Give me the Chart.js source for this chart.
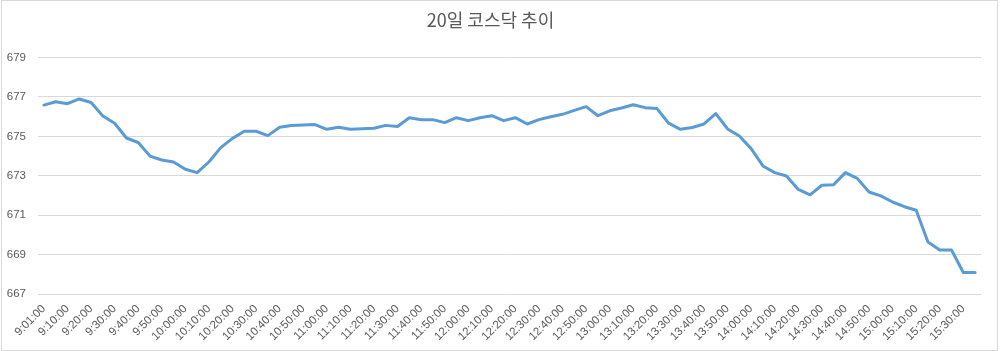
<!DOCTYPE html>
<html>
<head>
<meta charset="utf-8">
<script src="https://cdn.jsdelivr.net/npm/chart.js@4"></script>
<style>
  body { margin: 0; background: #fff; }
  #wrap { position: relative; width: 1000px; height: 351px; }
  #frame { position: absolute; left: 1px; top: 0; width: 997px; height: 351px; border: 1px solid #d9d9d9; box-sizing: border-box; pointer-events: none; }
</style>
</head>
<body>
<div id="wrap">
  <canvas id="chart" width="1000" height="351"></canvas>
  <div id="frame"></div>
</div>
<script>
const times = [
    '9:01:00', '9:05:00', '9:10:00', '9:15:00', '9:20:00', '9:25:00', '9:30:00', '9:35:00',
    '9:40:00', '9:45:00', '9:50:00', '9:55:00', '10:00:00', '10:05:00', '10:10:00', '10:15:00',
    '10:20:00', '10:25:00', '10:30:00', '10:35:00', '10:40:00', '10:45:00', '10:50:00', '10:55:00',
    '11:00:00', '11:05:00', '11:10:00', '11:15:00', '11:20:00', '11:25:00', '11:30:00', '11:35:00',
    '11:40:00', '11:45:00', '11:50:00', '11:55:00', '12:00:00', '12:05:00', '12:10:00', '12:15:00',
    '12:20:00', '12:25:00', '12:30:00', '12:35:00', '12:40:00', '12:45:00', '12:50:00', '12:55:00',
    '13:00:00', '13:05:00', '13:10:00', '13:15:00', '13:20:00', '13:25:00', '13:30:00', '13:35:00',
    '13:40:00', '13:45:00', '13:50:00', '13:55:00', '14:00:00', '14:05:00', '14:10:00', '14:15:00',
    '14:20:00', '14:25:00', '14:30:00', '14:35:00', '14:40:00', '14:45:00', '14:50:00', '14:55:00',
    '15:00:00', '15:05:00', '15:10:00', '15:15:00', '15:20:00', '15:25:00', '15:30:00', '15:35:00'
];

const kosdaq = [
    676.59, 676.76, 676.66, 676.90, 676.72, 676.04, 675.67, 674.92,
    674.69, 674.00, 673.80, 673.70, 673.33, 673.16, 673.70, 674.43,
    674.90, 675.26, 675.26, 675.04, 675.46, 675.55, 675.58, 675.60,
    675.36, 675.46, 675.36, 675.39, 675.41, 675.56, 675.50, 675.95,
    675.85, 675.85, 675.70, 675.95, 675.80, 675.95, 676.05, 675.80,
    675.95, 675.63, 675.85, 676.00, 676.12, 676.32, 676.51, 676.05,
    676.30, 676.44, 676.61, 676.46, 676.42, 675.67, 675.36, 675.45,
    675.63, 676.16, 675.38, 675.02, 674.38, 673.50, 673.16, 672.99,
    672.31, 672.03, 672.52, 672.55, 673.16, 672.87, 672.18, 671.98,
    671.67, 671.43, 671.25, 669.64, 669.23, 669.23, 668.09, 668.09
];

const yTicks = { min: 667, max: 679, step: 2 };
const titleText = '20일 코스닥 추이';

const textColor = '#595959';
const gridColor = '#d9d9d9';

const ctx = document.getElementById('chart').getContext('2d');

const chart = new Chart(ctx, {
    type: 'line',
    data: {
        labels: times,
        datasets: [
            {
                label: '코스닥',
                data: kosdaq,
                borderColor: '#5b9bd5',
                borderWidth: 3,
                pointRadius: 0,
                tension: 0,
                fill: false,
                borderJoinStyle: 'round',
                borderCapStyle: 'round'
            }
        ]
    },
    options: {
        responsive: false,
        animation: false,
        devicePixelRatio: 1,
        layout: {
            padding: { left: 0, right: 19, top: 0, bottom: 0 }
        },
        plugins: {
            legend: { display: false },
            tooltip: { enabled: false },
            title: {
                display: true,
                text: titleText,
                color: textColor,
                font: { family: '"Noto Sans CJK KR", "Noto Sans", sans-serif', size: 18, weight: 'normal' },
                padding: { top: 9, bottom: 27 }
            }
        },
        scales: {
            x: {
                offset: true,
                grid: { display: false, drawTicks: false },
                border: { display: false },
                ticks: {
                    autoSkip: false,
                    maxRotation: 45,
                    minRotation: 45,
                    padding: 8,
                    color: textColor,
                    font: { family: '"Liberation Sans", sans-serif', size: 11.5 },
                    callback: function (value, index) {
                        return index % 2 === 0 ? this.getLabelForValue(value) : '';
                    }
                },
                afterFit: function (scale) { scale.height = 57; }
            },
            y: {
                min: yTicks.min,
                max: yTicks.max,
                grid: { color: gridColor, lineWidth: 1, drawTicks: false },
                border: { display: false },
                ticks: {
                    stepSize: yTicks.step,
                    padding: 12,
                    color: textColor,
                    font: { family: '"Liberation Sans", sans-serif', size: 11.5 }
                },
                afterFit: function (scale) { scale.width = 38; }
            }
        }
    }
});
</script>
</body>
</html>
